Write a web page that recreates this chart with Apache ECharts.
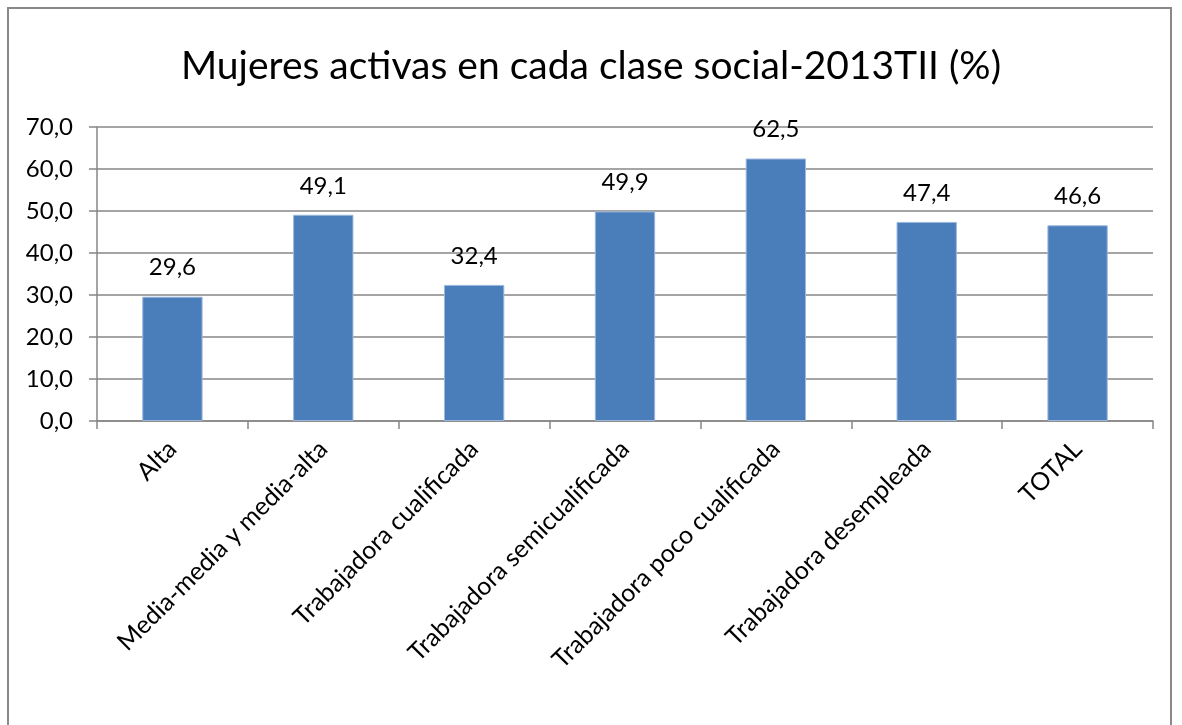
<!DOCTYPE html>
<html><head><meta charset="utf-8">
<script src="https://cdn.jsdelivr.net/npm/echarts@6/dist/echarts.min.js"></script>
<style>html,body{margin:0;padding:0;background:#fff}#c{width:1182px;height:725px}</style>
</head><body><div id="c"></div>
<script>
const titleText = 'Mujeres activas en cada clase social-2013TII (%)';
const categories = ['Alta','Media-media y media-alta','Trabajadora cualificada','Trabajadora semicualificada','Trabajadora poco cualificada','Trabajadora desempleada','TOTAL'];
const values = [29.6, 49.1, 32.4, 49.9, 62.5, 47.4, 46.6];
const yMin = 0, yMax = 70, yStep = 10;

const chart = echarts.init(document.getElementById('c'));
const fmt = v => v.toFixed(1).replace('.', ',');
chart.setOption({
  animation: false,
  backgroundColor: '#fff',
  graphic: [{type:'rect', shape:{x:8,y:8,width:1163,height:730}, style:{fill:'none', stroke:'#898989', lineWidth:2}, silent:true}],
  title: {text: titleText, left: 'center', top: 42, textStyle:{fontFamily:'Lato', fontWeight:'normal', fontSize:39, color:'#000'}},
  grid: {left: 97, right: 29, top: 127, bottom: 304, containLabel: false},
  xAxis: {
    type: 'category', data: categories,
    axisLine: {lineStyle:{color:'#878787', width:1.5}},
    axisTick: {show:true, length:8, alignWithLabel:false, lineStyle:{color:'#878787', width:1.5}},
    axisLabel: {rotate:45, margin:24, fontFamily:'Lato', fontSize:25, color:'#000', interval:0}
  },
  yAxis: {
    type: 'value', min: yMin, max: yMax, interval: yStep,
    axisLine: {show:true, lineStyle:{color:'#878787', width:1.5}},
    axisTick: {show:true, length:8, lineStyle:{color:'#878787', width:1.5}},
    splitLine: {lineStyle:{color:'#878787', width:1.5}},
    axisLabel: {formatter: v => fmt(v), margin:24, fontFamily:'Lato', fontSize:24, color:'#000'}
  },
  series: [{
    type: 'bar', data: values, barWidth: '40%',
    itemStyle: {color:'#4A7EBB', borderColor:'#9DB8DC', borderWidth:1},
    label: {show:true, position:'top', distance:17, formatter: p => fmt(p.value), fontFamily:'Lato', fontSize:24, color:'#000'}
  }]
});
</script></body></html>
